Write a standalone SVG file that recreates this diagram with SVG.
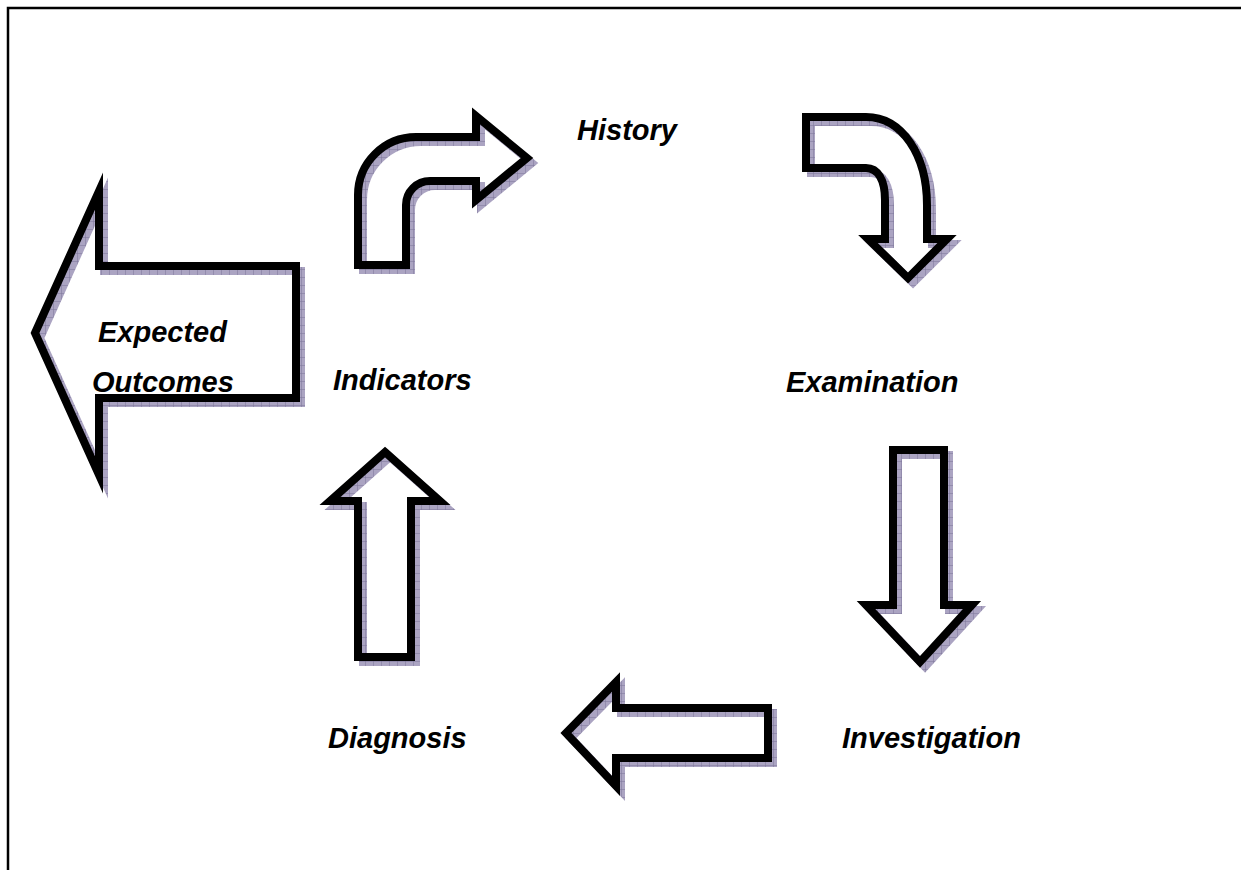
<svg xmlns="http://www.w3.org/2000/svg" xmlns:xlink="http://www.w3.org/1999/xlink" width="1241" height="870" viewBox="0 0 1241 870">
<style>
.lbl{font-family:"Liberation Sans",Arial,sans-serif;font-size:29px;font-weight:bold;font-style:italic;fill:#000}
.arrow{fill:none;stroke:#000;stroke-width:8;stroke-linejoin:miter;stroke-miterlimit:10}
.shadow{fill:none;stroke:url(#hatch);stroke-width:8;stroke-linejoin:miter;stroke-miterlimit:10}
.frame{stroke:#000;stroke-width:2.5;fill:none}
</style>
<defs>
<pattern id="hatch" patternUnits="userSpaceOnUse" width="8" height="8">
<rect width="8" height="8" fill="#aba4c2"/>
<path d="M0 0V8M0 0H8" stroke="#7c7499" stroke-width="1"/>
</pattern>
<path id="a-curve1" d="M358,265 L358,195 A58,58 0 0 1 416,137 L476,137 L476,116 L527,158 L476,200 L476,181 L430,181 A24,24 0 0 0 406,205 L406,265 Z"/>
<path id="a-curve2" d="M806,117 L866,117 C902,117 927,155 927,205 L927,239 L947,239 L908,278 L868,239 L885,239 L885,200 C885,180 878,168 866,168 L806,168 Z"/>
<path id="a-down" d="M893,450 L944,450 L944,605 L972,605 L920,662 L866,605 L893,605 Z"/>
<path id="a-left" d="M566,733 L616,682 L616,708 L768,708 L768,758 L616,758 L616,786 Z"/>
<path id="a-up" d="M385,452 L440,501 L411,501 L411,657 L358,657 L358,501 L330,501 Z"/>
<path id="a-out" d="M35,333 L99,191 L99,266 L296,266 L296,398 L99,398 L99,475 Z"/>
</defs>
<rect width="1241" height="870" fill="#fff"/>
<g id="frame">
<path class="frame" d="M8,870 L8,8 L1241,8"/>
</g>
<g id="connectors">
<g transform="translate(5,5)">
<use xlink:href="#a-curve1" class="shadow"/>
<use xlink:href="#a-curve2" class="shadow"/>
<use xlink:href="#a-down" class="shadow"/>
<use xlink:href="#a-left" class="shadow"/>
<use xlink:href="#a-up" class="shadow"/>
</g>
<use xlink:href="#a-curve1" class="arrow"/>
<use xlink:href="#a-curve2" class="arrow"/>
<use xlink:href="#a-down" class="arrow"/>
<use xlink:href="#a-left" class="arrow"/>
<use xlink:href="#a-up" class="arrow"/>
</g>
<g id="node-expected-outcomes">
<use xlink:href="#a-out" class="shadow" transform="translate(5,5)"/>
<use xlink:href="#a-out" class="arrow"/>
<text class="lbl" x="98" y="342">Expected</text>
<text class="lbl" x="92" y="392">Outcomes</text>
</g>
<g id="node-history"><text class="lbl" x="577" y="140">History</text></g>
<g id="node-examination"><text class="lbl" x="786" y="392">Examination</text></g>
<g id="node-investigation"><text class="lbl" x="842" y="748">Investigation</text></g>
<g id="node-diagnosis"><text class="lbl" x="328" y="748">Diagnosis</text></g>
<g id="node-indicators"><text class="lbl" x="333" y="390">Indicators</text></g>
</svg>
